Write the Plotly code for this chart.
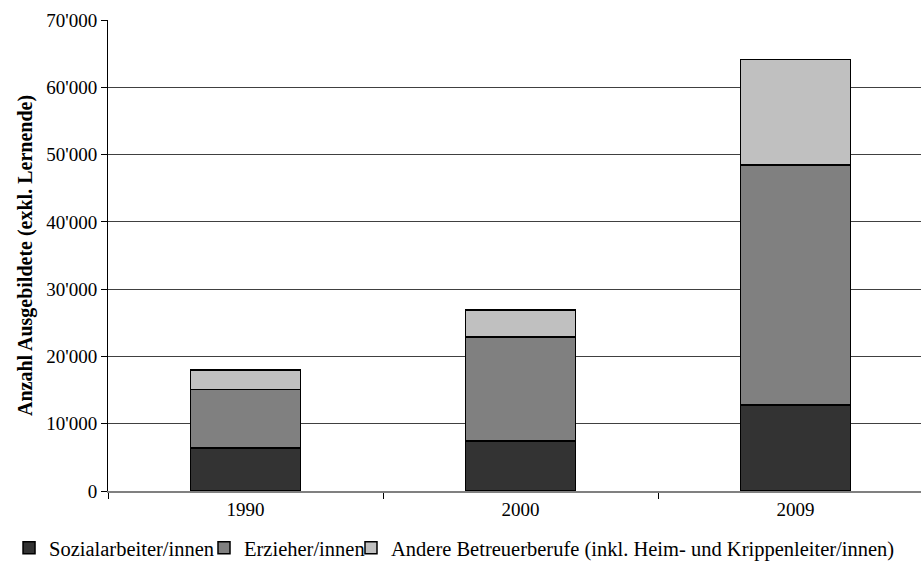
import plotly.graph_objects as go

years = ["1990", "2000", "2009"]
sozial = [6400, 7400, 12800]
erzieher = [8700, 15500, 35650]
andere = [2850, 4000, 15700]
series_names = [
    "Sozialarbeiter/innen",
    "Erzieher/innen",
    "Andere Betreuerberufe (inkl. Heim- und Krippenleiter/innen)",
]
colors = ["#333333", "#808080", "#c0c0c0"]
y_ticks = [0, 10000, 20000, 30000, 40000, 50000, 60000, 70000]
y_ticklabels = ["0", "10'000", "20'000", "30'000", "40'000", "50'000", "60'000", "70'000"]

FONT = "Liberation Serif, Times New Roman, serif"
legend_ids = ["legend", "legend2", "legend3"]
legend_x = [0.0098, 0.2215, 0.3811]

fig = go.Figure()
for name, vals, col, lid in zip(series_names, [sozial, erzieher, andere], colors, legend_ids):
    fig.add_trace(go.Bar(
        x=years, y=vals, name=name, legend=lid,
        marker=dict(color=col, line=dict(color="#000000", width=1.5)),
        width=0.4,
    ))

legend_common = dict(
    orientation="h", xref="container", yref="container",
    xanchor="left", y=0.0664, yanchor="middle",
    font=dict(family=FONT, size=20.5, color="#000000"),
    itemwidth=30, bgcolor="rgba(0,0,0,0)",
)

fig.update_layout(
    barmode="stack",
    width=921, height=587,
    margin=dict(l=108, r=0, t=20, b=96, autoexpand=False),
    paper_bgcolor="white", plot_bgcolor="white",
    font=dict(family=FONT, size=19, color="#000000"),
    showlegend=True,
    legend=dict(x=legend_x[0], **legend_common),
    legend2=dict(x=legend_x[1], **legend_common),
    legend3=dict(x=legend_x[2], **legend_common),
    xaxis=dict(
        type="category", range=[-0.5, 2.456],
        showline=True, linecolor="#808080", linewidth=1.5,
        ticks="outside", tickson="boundaries", ticklen=6, tickcolor="#000000",
        showgrid=False, tickangle=0, tickfont=dict(family=FONT, size=19),
    ),
    yaxis=dict(
        range=[0, 70000], tickvals=y_ticks, ticktext=y_ticklabels,
        showline=True, linecolor="#000000", linewidth=1,
        ticks="outside", ticklen=6, tickcolor="#000000",
        showgrid=True, gridcolor="#404040", gridwidth=1,
        zeroline=False,
        tickfont=dict(family=FONT, size=19),
        title=dict(text="<b>Anzahl Ausgebildete (exkl. Lernende)</b>",
                   font=dict(family=FONT, size=20), standoff=8),
    ),
)

fig.write_html("out.html")
